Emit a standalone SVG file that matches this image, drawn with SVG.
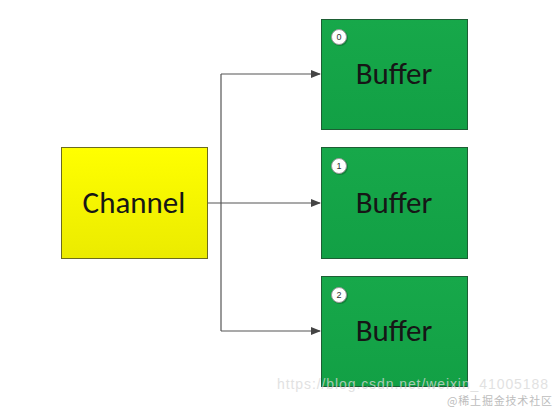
<svg xmlns="http://www.w3.org/2000/svg" width="556" height="408" viewBox="0 0 556 408">
<style>
.box{stroke-width:1}
.lbl{font-family:Carlito,"Open Sans","Liberation Sans",sans-serif;font-size:31px;text-anchor:middle;fill:#161616}
.badge{fill:#fff;stroke:#999;stroke-width:1}
.shadow{fill:#0d6e2f;opacity:0.6}
.bt{font-family:"Liberation Sans",sans-serif;font-size:9px;text-anchor:middle;fill:#333}
.conn{stroke:#555;stroke-width:1.2;fill:none}
.wm{font-family:"Liberation Sans",sans-serif;fill:#d8d8d8}
</style>
<defs>
<linearGradient id="gy" x1="0" y1="0" x2="0" y2="1"><stop offset="0" stop-color="#ffff00"/><stop offset="1" stop-color="#ebeb00"/></linearGradient>
<linearGradient id="gg" x1="0" y1="0" x2="0" y2="1"><stop offset="0" stop-color="#17a84a"/><stop offset="1" stop-color="#12a045"/></linearGradient>
<marker id="ar" markerWidth="10" markerHeight="8" refX="9" refY="4" orient="auto" markerUnits="userSpaceOnUse"><path d="M0,0 L10,4 L0,8 z" fill="#444"/></marker>
</defs>
<rect width="556" height="408" fill="#fff"/>
<g id="connectors">
<path class="conn" d="M207,203 H320" marker-end="url(#ar)"/>
<path class="conn" d="M221,74 V331"/>
<path class="conn" d="M221,74 H320" marker-end="url(#ar)"/>
<path class="conn" d="M221,331 H320" marker-end="url(#ar)"/>
</g>
<g id="channel">
<rect class="box" x="61.5" y="147.5" width="146" height="111" fill="url(#gy)" stroke="#6b6b20"/>
<text class="lbl" x="134" y="213">Channel</text>
</g>
<g id="buffer0">
<rect class="box" x="321.5" y="19.5" width="146" height="110" fill="url(#gg)" stroke="#1d5e34"/>
<circle class="shadow" cx="340" cy="38" r="8"/>
<circle class="badge" cx="339" cy="37" r="7.5"/>
<text class="bt" x="339" y="40">0</text>
<text class="lbl" x="394" y="84">Buffer</text>
</g>
<g id="buffer1">
<rect class="box" x="321.5" y="147.5" width="146" height="111" fill="url(#gg)" stroke="#1d5e34"/>
<circle class="shadow" cx="340" cy="167" r="8"/>
<circle class="badge" cx="339" cy="166" r="7.5"/>
<text class="bt" x="339" y="169">1</text>
<text class="lbl" x="394" y="213">Buffer</text>
</g>
<g id="buffer2">
<rect class="box" x="321.5" y="276.5" width="146" height="110" fill="url(#gg)" stroke="#1d5e34"/>
<circle class="shadow" cx="340" cy="296" r="8"/>
<circle class="badge" cx="339" cy="295" r="7.5"/>
<text class="bt" x="339" y="298">2</text>
<text class="lbl" x="394" y="341">Buffer</text>
</g>
<text class="wm" x="277" y="389" font-size="14" opacity="0.75" textLength="271">https://blog.csdn.net/weixin_41005188</text>
<text x="447" y="405" font-family="'Noto Sans CJK SC',sans-serif" font-size="11" fill="#bdbdbd" textLength="105">@稀土掘金技术社区</text>
</svg>
